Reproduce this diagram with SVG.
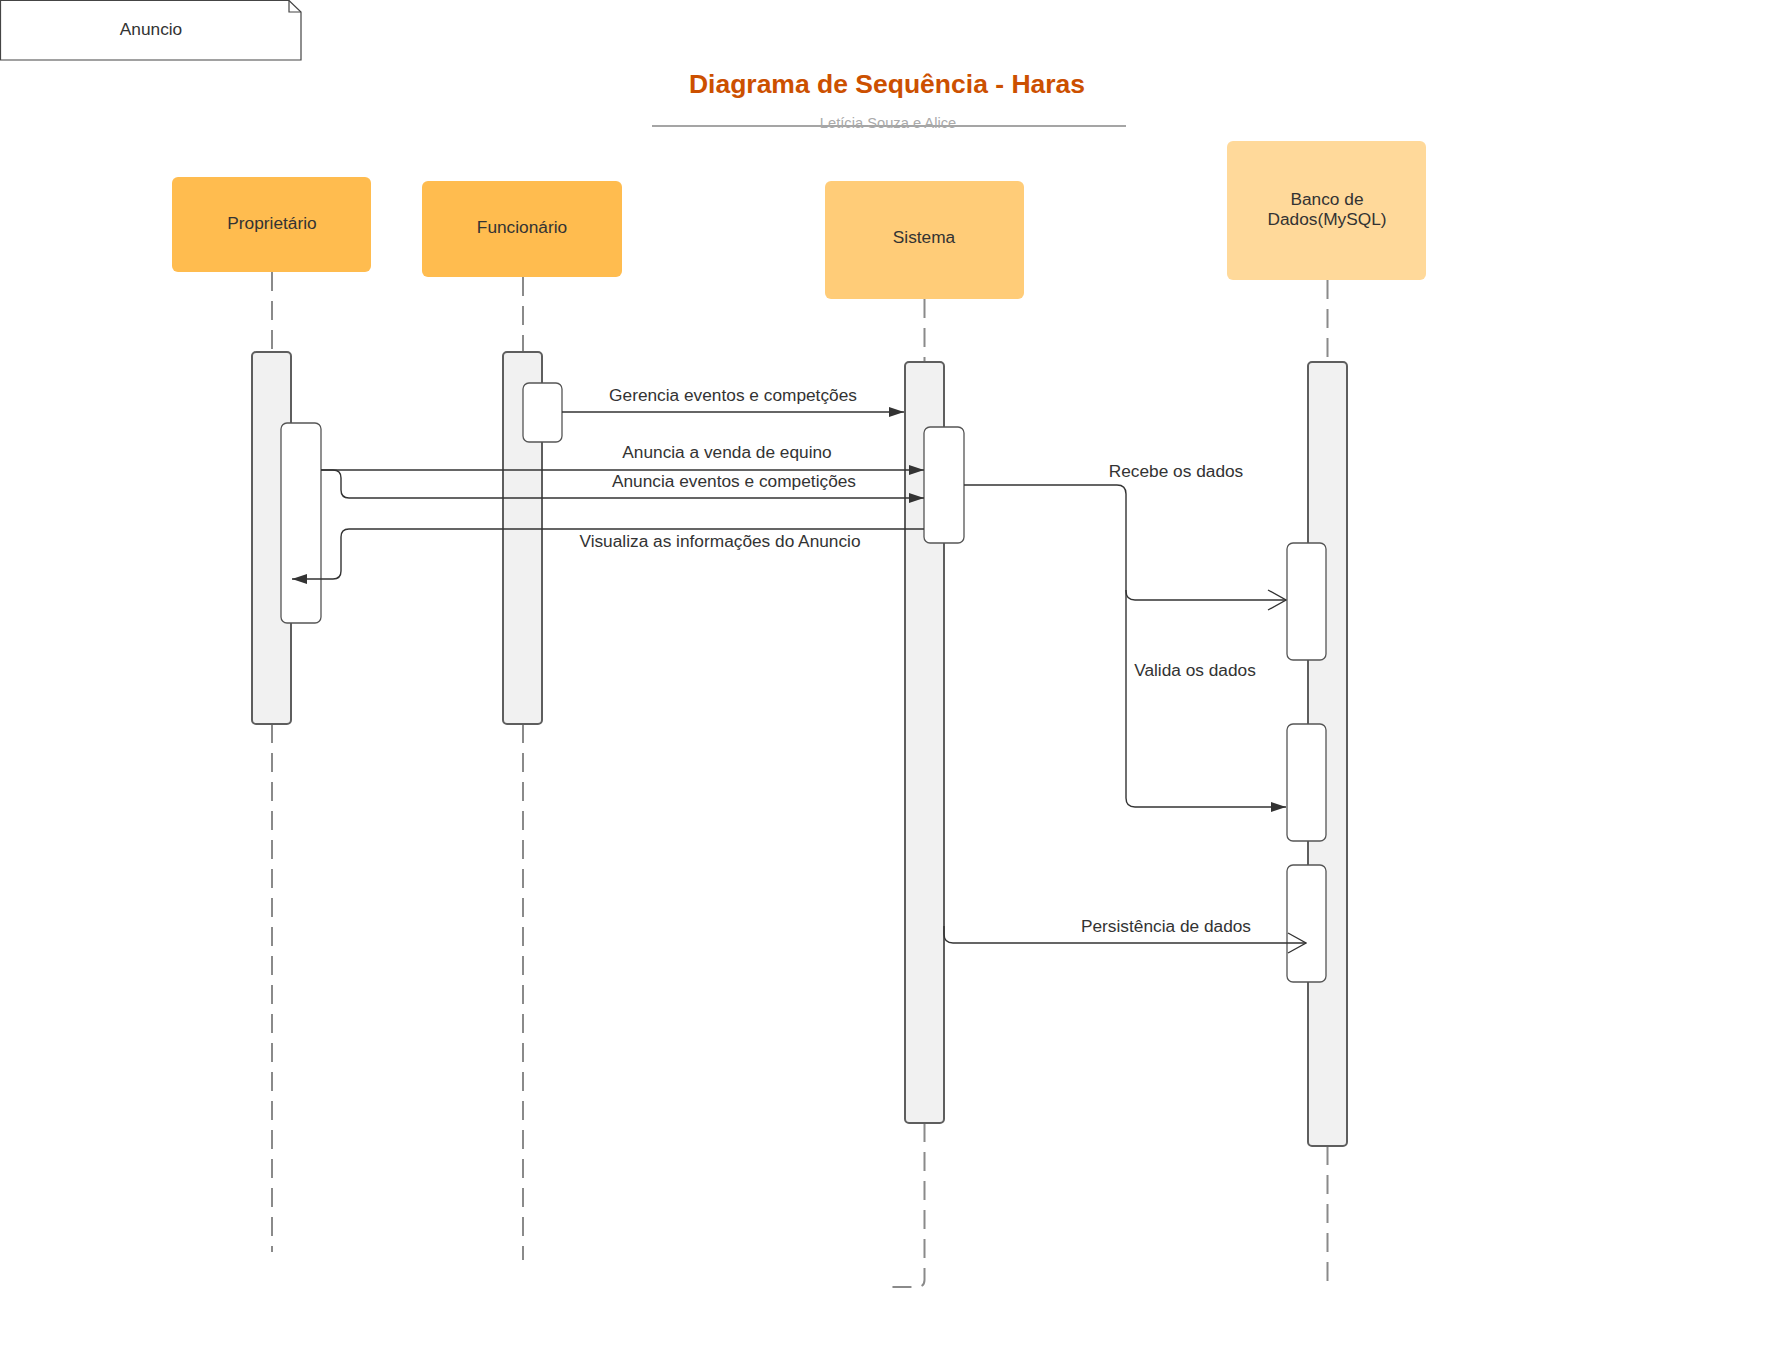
<svg xmlns="http://www.w3.org/2000/svg" width="1770" height="1368" viewBox="0 0 1770 1368">
<style>
text{font-family:"Liberation Sans",Arial,sans-serif;fill:#333}
.lbl{font-size:17.3px;text-anchor:middle}
.actor{stroke:none}
.life{fill:none;stroke:#8a8a8a;stroke-width:2;stroke-dasharray:19 10}
.bar{fill:#f1f1f1;stroke:#5e5e5e;stroke-width:2}
.act{fill:#fff;stroke:#555;stroke-width:1.3}
.msg{fill:none;stroke:#333;stroke-width:1.4}
</style>
<defs>
<marker id="fill" viewBox="0 0 15 10" refX="15" refY="5" markerWidth="15" markerHeight="10" markerUnits="userSpaceOnUse" orient="auto"><path d="M0,0 L15,5 L0,10 z" fill="#333"/></marker>
<marker id="open" viewBox="0 0 20 22" refX="19" refY="11" markerWidth="20" markerHeight="22" markerUnits="userSpaceOnUse" orient="auto"><path d="M1,1 L19,11 L1,21" fill="none" stroke="#333" stroke-width="1.3"/></marker>
</defs>
<rect width="1770" height="1368" fill="#fff"/>

<g id="note-anuncio">
<path d="M0.5,0.5 H289 L301,12 V60 H0.5 Z" fill="#fff" stroke="#444" stroke-width="1.2"/>
<path d="M289,0.5 V12 H301" fill="none" stroke="#444" stroke-width="1.2"/>
<text class="lbl" x="151" y="35">Anuncio</text>
</g>

<g id="title">
<text x="887" y="93" text-anchor="middle" font-size="26.5" font-weight="bold" style="fill:#cc5000">Diagrama de Sequência - Haras</text>
<line x1="652" y1="126" x2="1126" y2="126" stroke="#a5a5a5" stroke-width="2"/>
<text x="888" y="128" text-anchor="middle" font-size="14.7" style="fill:#aaa">Letícia Souza e Alice</text>
</g>

<g id="proprietario">
<rect class="actor" x="172" y="177" width="199" height="95" rx="6" fill="#ffbc4f"/>
<text class="lbl" x="272" y="229">Proprietário</text>
<path class="life" d="M272,272 V352"/>
<path class="life" d="M272,724 V1252"/>
<rect class="bar" x="252" y="352" width="39" height="372" rx="4"/>
<rect class="act" x="281" y="423" width="40" height="200" rx="6"/>
</g>

<g id="funcionario">
<rect class="actor" x="422" y="181" width="200" height="96" rx="6" fill="#ffbc4f"/>
<text class="lbl" x="522" y="233">Funcionário</text>
<path class="life" d="M523,277 V352"/>
<path class="life" d="M523,724 V1260"/>
<rect class="bar" x="503" y="352" width="39" height="372" rx="4"/>
<rect class="act" x="523" y="383" width="39" height="59" rx="6"/>
</g>

<g id="sistema">
<rect class="actor" x="825" y="181" width="199" height="118" rx="6" fill="#ffcc78"/>
<text class="lbl" x="924" y="243">Sistema</text>
<path class="life" d="M924.5,299 V362"/>
<path class="life" d="M924.5,1123 V1280 Q924.5,1287 917,1287 H884"/>
<rect class="bar" x="905" y="362" width="39" height="761" rx="4"/>
<rect class="act" x="924" y="427" width="40" height="116" rx="6"/>
</g>

<g id="banco">
<rect class="actor" x="1227" y="141" width="199" height="139" rx="6" fill="#ffd99a"/>
<text class="lbl" x="1327" y="205">Banco de</text>
<text class="lbl" x="1327" y="225">Dados(MySQL)</text>
<path class="life" d="M1327.5,280 V362"/>
<path class="life" d="M1327.5,1146 V1287"/>
<rect class="bar" x="1308" y="362" width="39" height="784" rx="4"/>
<rect class="act" x="1287" y="543" width="39" height="117" rx="6"/>
<rect class="act" x="1287" y="724" width="39" height="117" rx="6"/>
<rect class="act" x="1287" y="865" width="39" height="117" rx="6"/>
</g>

<g id="connectors">
<path class="msg" d="M562,412 H904" marker-end="url(#fill)"/>
<text class="lbl" x="733" y="401">Gerencia eventos e competções</text>

<path class="msg" d="M321,470 H924" marker-end="url(#fill)"/>
<text class="lbl" x="727" y="458">Anuncia a venda de equino</text>

<path class="msg" d="M321,470 H333 Q341,470 341,478 V490 Q341,498 349,498 H924" marker-end="url(#fill)"/>
<text class="lbl" x="734" y="487">Anuncia eventos e competições</text>

<path class="msg" d="M924,529 H349 Q341,529 341,537 V571 Q341,579 333,579 H292" marker-end="url(#fill)"/>
<text class="lbl" x="720" y="547">Visualiza as informações do Anuncio</text>

<path class="msg" d="M964,485 H1117 Q1126,485 1126,494 V591 Q1126,600 1135,600 H1286" marker-end="url(#open)"/>
<text class="lbl" x="1176" y="477">Recebe os dados</text>

<path class="msg" d="M1126,590 V798 Q1126,807 1135,807 H1286" marker-end="url(#fill)"/>
<text class="lbl" x="1195" y="676">Valida os dados</text>

<path class="msg" d="M944,926 V934 Q944,943 953,943 H1306" marker-end="url(#open)"/>
<text class="lbl" x="1166" y="932">Persistência de dados</text>
</g>
</svg>
